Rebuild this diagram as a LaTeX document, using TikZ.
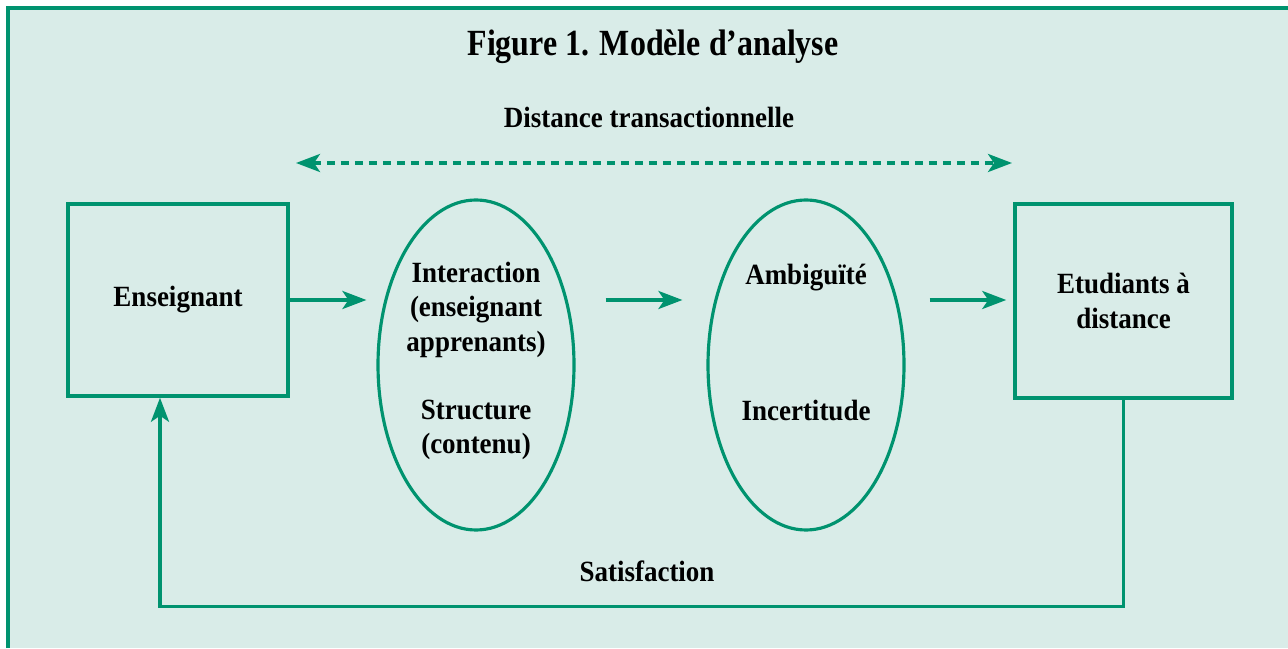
\documentclass[tikz,border=0pt]{standalone}
\usepackage{fontspec}
\setmainfont[FakeStretch=0.92]{Liberation Serif}
\newfontfamily\titrefont[FakeStretch=0.865]{Liberation Serif}
\usetikzlibrary{arrows.meta,positioning,calc,shapes.geometric}
\definecolor{vert}{RGB}{0,147,111}
\definecolor{fond}{RGB}{217,236,232}

\begin{document}
\begin{tikzpicture}[%
    >={Stealth[length=4.8mm,width=3.6mm,inset=1.2mm]},  % swept arrow heads
    every node/.style={font=\bfseries\fontsize{16.7}{19.4}\selectfont, align=center}
    ]

\tikzset{
    base/.style={draw=vert, align=center},
    boite/.style={base, rectangle, line width=2pt, minimum width=4.4cm, minimum height=3.84cm},
    bulle/.style={base, ellipse, line width=1.8pt, minimum width=3.92cm, minimum height=6.6cm, inner sep=0pt},
    % Arrows
    fforw/.style={->, draw=vert, line width=2pt},
    fback/.style={->, draw=vert, line width=2pt},
    aref/.style={<->, draw=vert, line width=2pt, dash pattern=on 1.6mm off 1.2mm},
}

\useasboundingbox (0,0) rectangle (25.76,12.96);

%% Frame
\fill [fond] (0.14,0) rectangle (25.76,12.82);
\draw [vert, line width=1.9pt] (0.16,0) -- (0.16,12.80) -- (25.76,12.80);

%% Titles
\node (titre) at (13.06,12.02) {\titrefont\bfseries\fontsize{21}{24}\selectfont Figure 1. Modèle d’analyse};
\node (dist) at (12.98,10.62) {Distance transactionnelle};
\coordinate (dg) at (5.92,9.70);
\coordinate (dd) at (20.24,9.70);
    \draw [aref] (dg) -- (dd);

%% Middle row
\node [boite] (ens) at (3.56,6.96) {Enseignant};
\node [bulle] (inter) at (9.52,5.66) {};
    \node (tinter) at ($(inter.center)+(0,0.08)$) {Interaction\\(enseignant\\apprenants)\\[19.4pt]Structure\\(contenu)};
\node [bulle] (ambi) at (16.12,5.66) {};
    \node (tambi) at ($(ambi.center)+(0,0.45)$) {Ambiguïté\\[58.2pt]Incertitude};
\node [boite, minimum width=4.34cm, minimum height=3.88cm] (etu) at (22.47,6.94) {Etudiants à\\[1pt]distance};
    \draw [fforw, shorten >=0.2cm] (ens.east) -- (ens.east -| inter.west);
    \draw [fforw, shorten <=0.6cm, shorten >=0.48cm] (inter.east |- ens.east) -- (ambi.west |- ens.east);
    \draw [fforw, shorten <=0.48cm, shorten >=0.14cm] (ambi.east |- ens.east) -- (etu.west |- ens.east);

%% Feedback
\node (sat) at (12.94,1.54) {Satisfaction};
\coordinate (rbas) at ($(etu.south)+(0,-4.13)$);
\coordinate (lbas) at ($(ens.south)+(-0.36,0)$);
    \draw [fback] (etu.south) -- (rbas) -| (lbas);
\end{tikzpicture}
\end{document}
